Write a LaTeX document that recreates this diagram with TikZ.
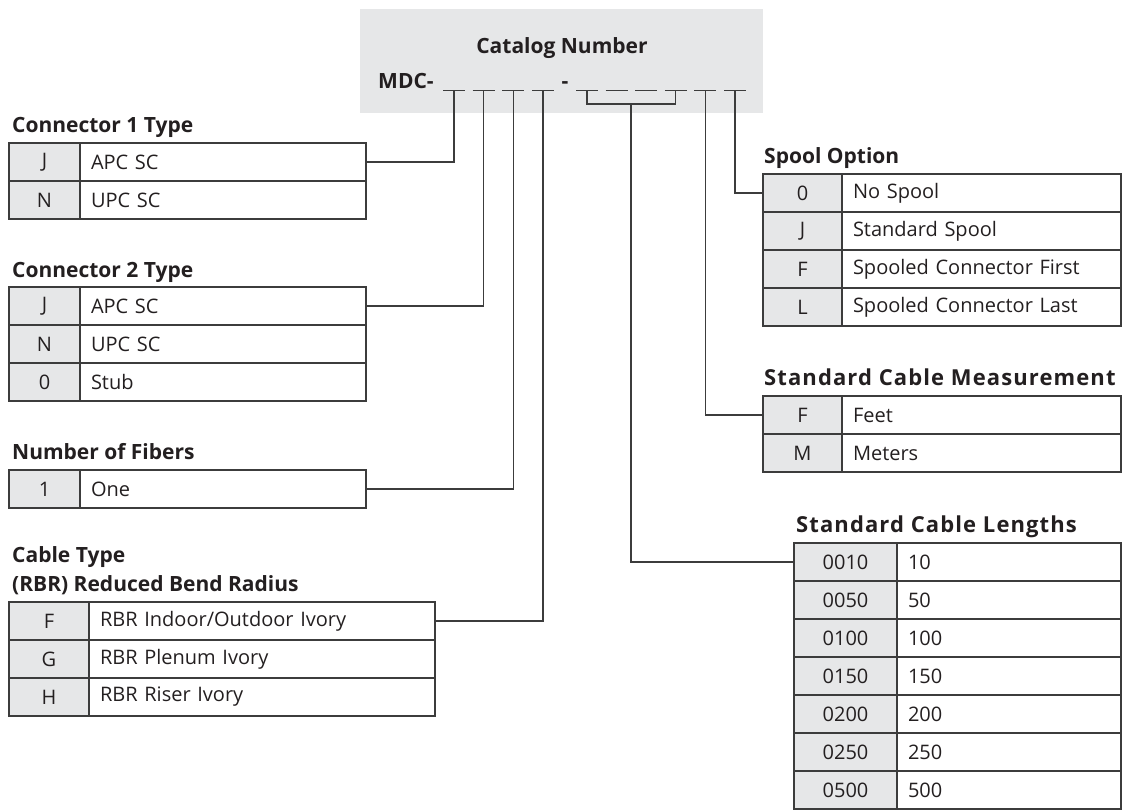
\documentclass[tikz,border=0pt]{standalone}
\usepackage{fontspec}
\setmainfont{Open Sans}
\usetikzlibrary{positioning}

\definecolor{linegray}{HTML}{3C3C3C}
\definecolor{cellgray}{HTML}{E6E7E8}
\definecolor{inkblack}{HTML}{231F20}

\tikzset{
  title/.style={font=\bfseries\fontsize{21}{24}\selectfont, text=inkblack, anchor=base west, inner sep=0pt},
  widetitle/.style={title, font=\bfseries\fontsize{22}{24}\selectfont\addfontfeatures{LetterSpace=5}},
  codecell/.style={draw=linegray, fill=cellgray, line width=1.3pt, outer sep=0pt, inner sep=0pt,
    minimum height=38pt, anchor=north west, text=inkblack, font=\fontsize{20}{23}\selectfont},
  desccell/.style={draw=linegray, line width=1.3pt, outer sep=0pt, inner xsep=11pt, inner ysep=0pt,
    minimum height=38pt, align=left, text=inkblack, font=\fontsize{20}{23}\selectfont},
  link/.style={draw=linegray, line width=1.3pt},
}

% option table: name, left x, top y, code width, text width of description, rows
\newcommand{\opttab}[6]{%
  \foreach \k/\d [count=\i] in {#6} {
    \node[codecell, minimum width=#4pt] (#1c\i) at (#2, {#3+38*(\i-1)}) {\k};
    \node[desccell, text width=#5pt, right=0pt of #1c\i] (#1d\i) {\d};
  }}

\begin{document}
\begin{tikzpicture}[x=1pt, y=-1pt]
\useasboundingbox (0,0) rectangle (1123,809);

% catalog number header
\node[fill=cellgray, minimum width=403pt, minimum height=104pt, anchor=north west, inner sep=0pt] (hdr) at (360,9) {};
\node[title, anchor=base] (cat) at (562,53) {Catalog Number};
\node[title] (mdc) at (378,88) {MDC-};
\node[title, anchor=base] (dash) at (565,88) {-};
\foreach \i in {1,...,4} {
  \draw[link, line width=1pt] ({443+29.7*(\i-1)},90) -- ({465+29.7*(\i-1)},90);
  \coordinate (s\i) at ({454+29.7*(\i-1)},90);
}
\foreach \j [evaluate=\j as \i using int(\j+4)] in {1,...,6} {
  \draw[link, line width=1pt] ({576+29.6*(\j-1)},90) -- ({598+29.6*(\j-1)},90);
  \coordinate (s\i) at ({587+29.6*(\j-1)},90);
}
\coordinate (brk) at (631,104);

% left tables
\node[title] (t1) at (12,132) {Connector 1 Type};
\opttab{con}{9}{143}{71}{264}{J/APC SC, N/UPC SC}
\node[title] (t2) at (12,277) {Connector 2 Type};
\opttab{ctw}{9}{287}{71}{264}{J/APC SC, N/UPC SC, 0/Stub}
\node[title] (t3) at (12,459) {Number of Fibers};
\opttab{fib}{9}{470}{71}{264}{1/One}
\node[title] (t4) at (12,562) {Cable Type};
\node[title] (t5) at (12,591) {(RBR) Reduced Bend Radius};
\opttab{cab}{9}{602}{80}{324}{F/{RBR Indoor/Outdoor Ivory}, G/RBR Plenum Ivory, H/RBR Riser Ivory}

% right tables
\node[title] (t6) at (764,163) {Spool Option};
\opttab{spo}{763}{174}{79}{257}{0/No Spool, J/Standard Spool, F/Spooled Connector First, L/Spooled Connector Last}
\node[widetitle] (t7) at (764,385) {Standard Cable Measurement};
\opttab{mea}{763}{396}{79}{257}{F/Feet, M/Meters}
\node[widetitle] (t8) at (796,532) {Standard Cable Lengths};
\opttab{len}{794}{543}{103}{202}{0010/10, 0050/50, 0100/100, 0150/150, 0200/200, 0250/250, 0500/500}

% connectors
\draw[link] (cond1.east) -| (s1);
\draw[link] (ctwd1.east) -| (s2);
\draw[link] (fibd1.east) -| (s3);
\draw[link] (cabd1.east) -| (s4);
\draw[link] (s5) |- (brk) -| (s8);
\draw[link] (lenc1.west) -| (brk);
\draw[link] (meac1.west) -| (s9);
\draw[link] (spoc1.west) -| (s10);
\end{tikzpicture}
\end{document}
